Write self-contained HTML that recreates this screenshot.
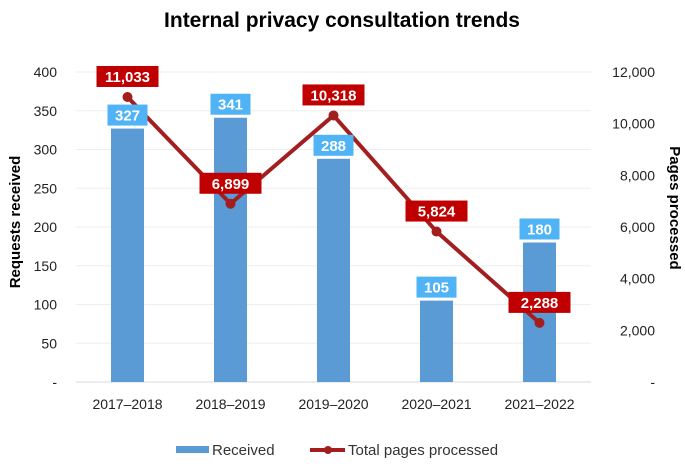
<!DOCTYPE html>
<html><head><meta charset="utf-8"><style>
body{margin:0;background:#fff;}
svg{display:block;font-family:"Liberation Sans",sans-serif;}
</style></head><body>
<svg id="c" width="685" height="467" viewBox="0 0 685 467">
<text x="342" y="27" text-anchor="middle" font-size="21" font-weight="bold" fill="#000">Internal privacy consultation trends</text>
<text transform="translate(20,222) rotate(-90)" text-anchor="middle" font-size="15" font-weight="bold">Requests received</text>
<text transform="translate(670,208) rotate(90)" text-anchor="middle" font-size="15" font-weight="bold">Pages processed</text>
<g id="grid"></g><g id="bars"></g><g id="line"></g><g id="labels"></g><g id="ticks"></g>
<g>
<rect x="176" y="446" width="33" height="7" fill="#5b9bd5"/>
<text x="212" y="455" font-size="15" fill="#333">Received</text>
<line x1="310" y1="450" x2="345" y2="450" stroke="#a31f1f" stroke-width="4"/>
<circle cx="328" cy="450" r="4" fill="#a31f1f"/>
<text x="348" y="455" font-size="15" fill="#333">Total pages processed</text>
</g>
</svg>
<script>
const categories=["2017–2018","2018–2019","2019–2020","2020–2021","2021–2022"];
const received=[327,341,288,105,180];
const pages=[11033,6899,10318,5824,2288];
const leftTicks=[0,50,100,150,200,250,300,350,400];
const rightTicks=[0,2000,4000,6000,8000,10000,12000];
const NS="http://www.w3.org/2000/svg";
const X0=76,X1=591,Y0=382,Y1=72;
const yL=v=>Y0-(v/400)*(Y0-Y1);
const yR=v=>Y0-(v/12000)*(Y0-Y1);
const xC=i=>X0+(i+0.5)*(X1-X0)/categories.length;
function mk(tag,attrs,parent,txt){const e=document.createElementNS(NS,tag);for(const k in attrs)e.setAttribute(k,attrs[k]);if(txt!==undefined)e.textContent=txt;document.getElementById(parent).appendChild(e);return e;}
const fmt=v=>v.toLocaleString('en-US');
leftTicks.forEach(t=>{
  const g=mk('line',{x1:X0,x2:X1,y1:yL(t),y2:yL(t),stroke:t===0?'#d9d9d9':'#eeeeee','stroke-width':1},'grid');
  
  
  const l=mk('text',{x:57,y:yL(t)+5,'text-anchor':'end','font-size':14,fill:'#222'},'ticks',t===0?'-':t);
  
  
});
rightTicks.forEach(t=>{
  const l=mk('text',{x:655,y:yR(t)+5,'text-anchor':'end','font-size':14,fill:'#222'},'ticks',t===0?'-':fmt(t));
  
  
});
categories.forEach((c,i)=>{
  const l=mk('text',{x:xC(i),y:409,'text-anchor':'middle','font-size':14,fill:'#222'},'ticks',c);
  
  
  const b=mk('rect',{x:xC(i)-16.5,y:yL(received[i]),width:33,height:Y0-yL(received[i]),fill:'#5b9bd5'},'bars');
  
  
});
const pts=pages.map((v,i)=>xC(i)+','+yR(v)).join(' ');
const pl=mk('polyline',{points:pts,fill:'none',stroke:'#a31f1f','stroke-width':4,'stroke-linejoin':'round'},'line');


pages.forEach((v,i)=>{
  const p=mk('circle',{cx:xC(i),cy:yR(v),r:5,fill:'#a31f1f'},'line');
  
  
});
received.forEach((v,i)=>{
  const cy=yL(v)-14;
  const r=mk('rect',{x:xC(i)-20,y:cy-10,width:40,height:21,fill:'#4fb3f6'},'labels');
  
  
  const t=mk('text',{x:xC(i),y:cy+6,'text-anchor':'middle','font-size':15,'font-weight':'bold',fill:'#fff'},'labels',v);
  
  
});
pages.forEach((v,i)=>{
  const cy=yR(v)-21;
  const r=mk('rect',{x:xC(i)-31,y:cy-10,width:62,height:21,fill:'#c00000'},'labels');
  
  
  const t=mk('text',{x:xC(i),y:cy+6,'text-anchor':'middle','font-size':15,'font-weight':'bold',fill:'#fff'},'labels',fmt(v));
  
  
});
</script>
</body></html>
